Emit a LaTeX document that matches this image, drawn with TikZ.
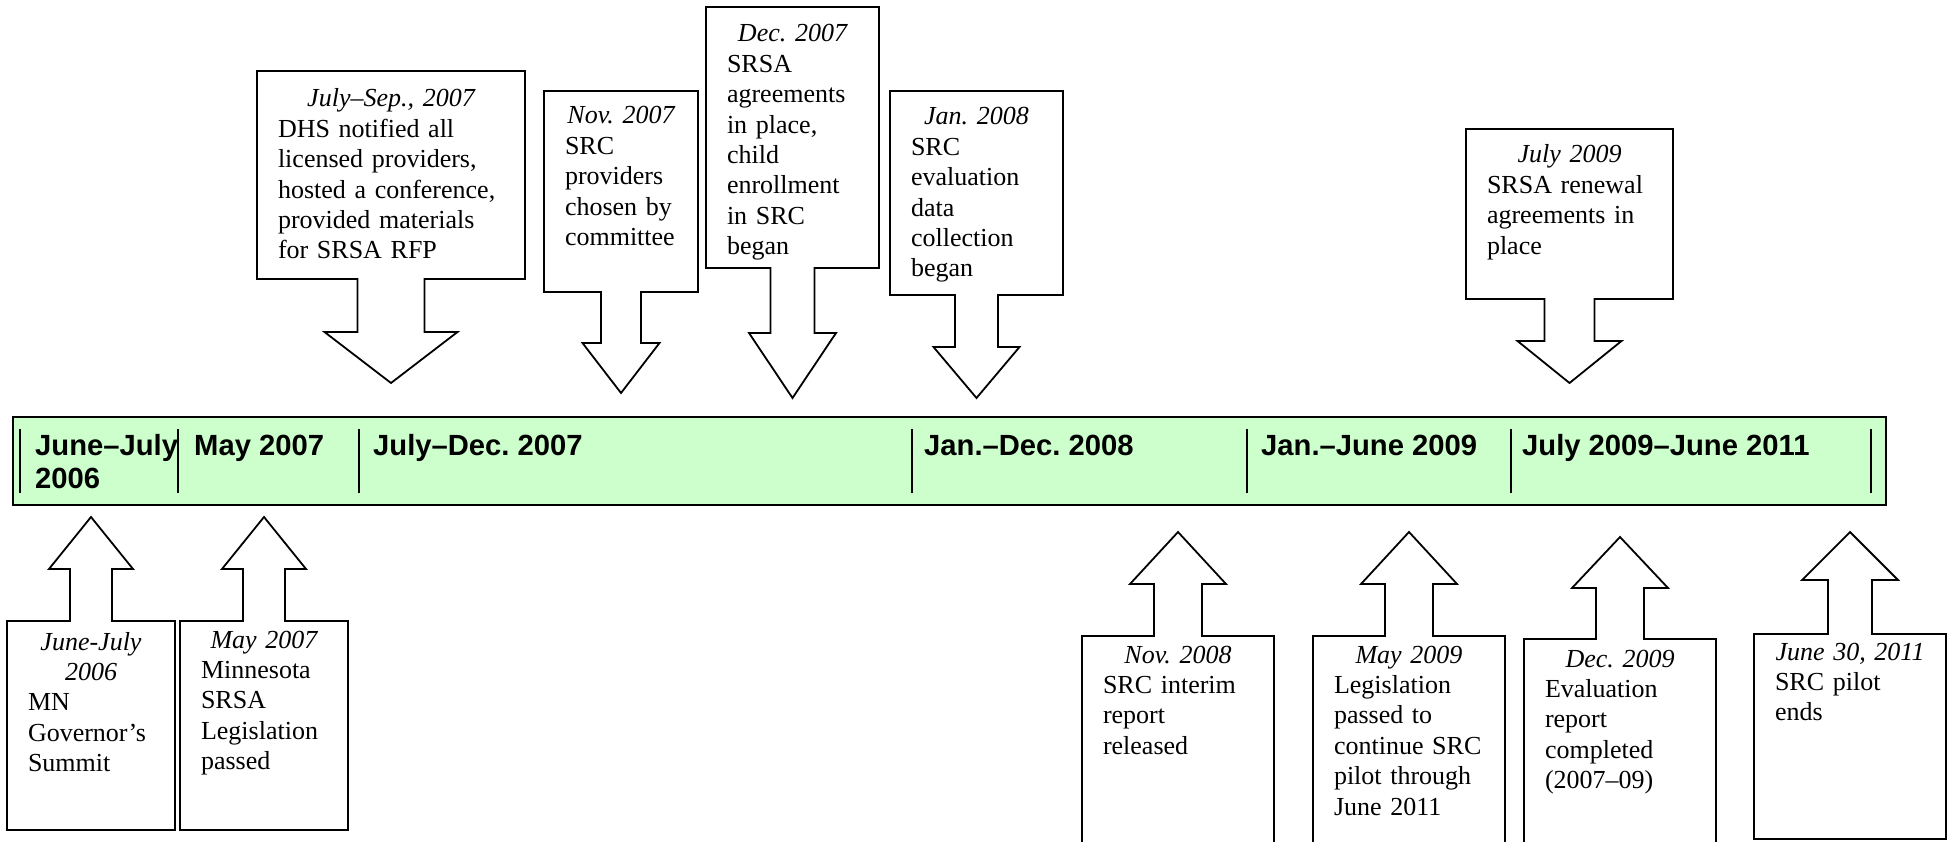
\documentclass[tikz,border=0pt]{standalone}
\usepackage{fontspec}
\setmainfont{Liberation Serif}
\newfontfamily\barfont{Liberation Sans}
\definecolor{barfill}{HTML}{CCFFCC}
\frenchspacing
\tikzset{
  callshape/.style={draw=black, line width=1.8pt, fill=white, line join=miter},
  evtext/.style={anchor=base, inner sep=0pt, align=left, font=\fontsize{26}{30.4}\selectfont},
  barlabel/.style={anchor=base west, inner sep=0pt, align=left, font=\barfont\bfseries\fontsize{29.2}{33}\selectfont},
  divider/.style={line width=2pt},
  timebar/.style={draw=black, line width=2.5pt, fill=barfill}
}
% #1 name, #2 cx, #3 half width, #4 far edge y, #5 near edge y, #6 stem half width, #7 head half width, #8 head base y, #9 tip y
\newcommand\mycallout[9]{%
  \draw[callshape] ({#2-#3},#4) -- ({#2+#3},#4) -- ({#2+#3},#5) -- ({#2+#6},#5) -- ({#2+#6},#8) -- ({#2+#7},#8) -- (#2,#9) -- ({#2-#7},#8) -- ({#2-#6},#8) -- ({#2-#6},#5) -- ({#2-#3},#5) -- cycle;
  \coordinate (#1-tip) at (#2,#9);
}
\newcommand\mydate[1]{\makebox[\linewidth]{\itshape #1}}
\begin{document}
\begin{tikzpicture}[x=1pt,y=-1pt]
\useasboundingbox (0,0) rectangle (1956,842);
\begin{scope}
\clip (0,0) rectangle (1956,842);
% timeline bar
\draw[timebar] (13,417) rectangle (1886,505);
\foreach \dx in {20,178,359,912,1247,1511,1871}
  \draw[divider] (\dx,429) -- (\dx,493);
\node[barlabel, text width=150pt] (p1) at (35,455) {June–July\\2006};
\node[barlabel] (p2) at (194,455) {May 2007};
\node[barlabel] (p3) at (373,455) {July–Dec. 2007};
\node[barlabel] (p4) at (924,455) {Jan.–Dec. 2008};
\node[barlabel] (p5) at (1261,455) {Jan.–June 2009};
\node[barlabel] (p6) at (1522,455) {July 2009–June 2011};
% top callouts
\mycallout{c1}{391}{134}{71}{279}{33.5}{66.5}{332}{383}
\node[evtext, text width=226pt] (t1) at (391,107) {\mydate{July–Sep., 2007}\\DHS notified all\\licensed providers,\\hosted a conference,\\provided materials\\for SRSA RFP};
\mycallout{c2}{621}{77}{91}{292}{20}{38.5}{343}{393}
\node[evtext, text width=112pt] (t2) at (621,124) {\mydate{Nov. 2007}\\SRC\\providers\\chosen by\\committee};
\mycallout{c3}{792.5}{86.5}{7}{268}{22}{43.5}{333}{398}
\node[evtext, text width=131pt] (t3) at (792.5,42) {\mydate{Dec. 2007}\\SRSA\\agreements\\in place,\\child\\enrollment\\in SRC\\began};
\mycallout{c4}{976.5}{86.5}{91}{295}{21.5}{43}{347}{398}
\node[evtext, text width=131pt] (t4) at (976.5,125) {\mydate{Jan. 2008}\\SRC\\evaluation\\data\\collection\\began};
\mycallout{c5}{1569.5}{103.5}{129}{299}{25}{52}{341}{383}
\node[evtext, text width=165pt] (t5) at (1569.5,163) {\mydate{July 2009}\\SRSA renewal\\agreements in\\place};
% bottom callouts
\mycallout{c6}{91}{84}{830}{621}{21}{42}{569}{517}
\node[evtext, text width=126pt] (t6) at (91,650) {\mydate{June-July}\\\mydate{2006}\\MN\\Governor’s\\Summit};
\mycallout{c7}{264}{84}{830}{621}{21}{42}{569}{517}
\node[evtext, text width=126pt] (t7) at (264,648) {\mydate{May 2007}\\Minnesota\\SRSA\\Legislation\\passed};
\mycallout{c8}{1178}{96}{870}{636}{24}{48}{584}{532}
\node[evtext, text width=150pt] (t8) at (1178,663) {\mydate{Nov. 2008}\\SRC interim\\report\\released};
\mycallout{c9}{1409}{96}{870}{636}{24}{48}{584}{532}
\node[evtext, text width=150pt] (t9) at (1409,663) {\mydate{May 2009}\\Legislation\\passed to\\continue SRC\\pilot through\\June 2011};
\mycallout{c10}{1620}{96}{870}{639}{24}{48}{588}{537}
\node[evtext, text width=150pt] (t10) at (1620,667) {\mydate{Dec. 2009}\\Evaluation\\report\\completed\\(2007–09)};
\mycallout{c11}{1850}{96}{839}{634}{22}{48}{580}{532}
\node[evtext, text width=150pt] (t11) at (1850,660) {\mydate{June 30, 2011}\\SRC pilot\\ends};
\end{scope}
\end{tikzpicture}
\end{document}
